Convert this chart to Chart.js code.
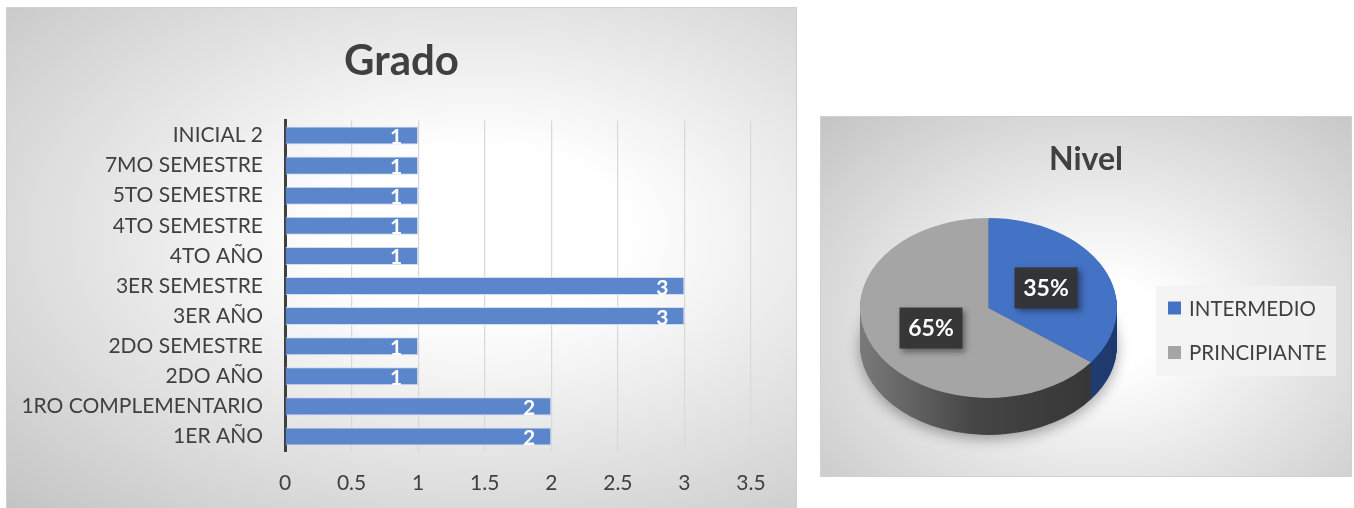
<!DOCTYPE html>
<html>
<head>
<meta charset="utf-8">
<script src="https://cdn.jsdelivr.net/npm/chart.js@4"></script>
<style>
  body { margin: 0; background: #fff; width: 1354px; height: 508px; overflow: hidden; position: relative; }
  .panel { position: absolute; border: 1px solid #d0d0d0; }
  #grado-panel {
    left: 6px; top: 7px; width: 789px; height: 500px;
    background: radial-gradient(ellipse farthest-corner at 60% 45%, #ffffff 0%, #ffffff 22%, #c4c4c4 100%);
  }
  #nivel-panel {
    left: 820px; top: 116px; width: 530px; height: 359px;
    background: radial-gradient(ellipse farthest-corner at 53% 58%, #ffffff 0%, #ffffff 15%, #c4c4c4 100%);
  }
  canvas { position: absolute; left: 0; top: 0; }
</style>
</head>
<body>
<div class="panel" id="grado-panel"><canvas id="grado" width="789" height="500"></canvas></div>
<div class="panel" id="nivel-panel"><canvas id="nivel" width="530" height="359"></canvas></div>
<script>
// --- data ---
const gradoLabels = ['1ER AÑO', '1RO COMPLEMENTARIO', '2DO AÑO', '2DO SEMESTRE', '3ER AÑO',
    '3ER SEMESTRE', '4TO AÑO', '4TO SEMESTRE', '5TO SEMESTRE', '7MO SEMESTRE', 'INICIAL 2'];
const gradoValues = [2, 2, 1, 1, 3, 3, 1, 1, 1, 1, 1];
const gradoTicks = [0, 0.5, 1, 1.5, 2, 2.5, 3, 3.5];

const nivelLabels = ['INTERMEDIO', 'PRINCIPIANTE'];
const nivelValues = [6, 11];

const TEXT = '#404040';
const FONT = 'Lato, Carlito, Calibri, sans-serif';
Chart.defaults.font.family = FONT;
Chart.defaults.color = TEXT;
Chart.defaults.animation = false;

// title centred on the whole canvas (layout padding would shift the built-in one)
const centerTitle = {
    id: 'centerTitle',
    afterDraw(chart, args, opts) {
        const ctx = chart.ctx;
        ctx.save();
        ctx.fillStyle = TEXT;
        ctx.font = `bold ${opts.size}px ${FONT}`;
        ctx.textAlign = 'center';
        ctx.textBaseline = 'middle';
        ctx.fillText(opts.text, chart.width / 2, opts.y);
        ctx.restore();
    }
};

// white value labels at the end of each bar
const barLabels = {
    id: 'barLabels',
    afterDatasetsDraw(chart) {
        const ctx = chart.ctx;
        const meta = chart.getDatasetMeta(0);
        ctx.save();
        ctx.fillStyle = '#ffffff';
        ctx.font = `bold 21px ${FONT}`;
        ctx.textAlign = 'right';
        ctx.textBaseline = 'alphabetic';
        meta.data.forEach((bar, i) => {
            ctx.fillText(String(gradoValues[i]), bar.x - 16, bar.y + 8.5);
        });
        ctx.restore();
    }
};

new Chart(document.getElementById('grado'), {
    type: 'bar',
    data: {
        labels: gradoLabels,
        datasets: [{
            data: gradoValues,
            backgroundColor: '#5b86cc',
            borderColor: 'rgba(205,218,240,0.9)',
            borderWidth: 1,
            barPercentage: 0.6,
            categoryPercentage: 1.0
        }]
    },
    options: {
        indexAxis: 'y',
        responsive: false,
        layout: { padding: { left: 0, right: 45, top: 112.5, bottom: 0 } },
        scales: {
            x: {
                min: 0,
                max: 3.5,
                afterBuildTicks: scale => { scale.ticks = gradoTicks.map(v => ({ value: v })); },
                afterFit: scale => { scale.height = 56.5; },
                grid: { color: '#d9d9d9', lineWidth: 1.25, drawTicks: false },
                border: { display: false },
                ticks: {
                    padding: 19,
                    font: { size: 21 },
                    color: TEXT,
                    callback: v => String(v)
                }
            },
            y: {
                reverse: true,
                afterFit: scale => { scale.width = 278; },
                grid: { display: false, drawTicks: false },
                border: { display: true, color: '#404040', width: 3 },
                ticks: { padding: 22, font: { size: 21 }, color: TEXT, autoSkip: false }
            }
        },
        plugins: {
            legend: { display: false },
            tooltip: { enabled: false },
            title: { display: false },
            centerTitle: { text: 'Grado', size: 42, y: 53 }
        }
    },
    plugins: [barLabels, centerTitle]
});

// --- 3D look for the pie: squash vertically and add a side wall ---
const TILT = 0.70;
const DEPTH = 37;
const sideColors = ['#1f3b70', null];

const pie3d = {
    id: 'pie3d',
    beforeDatasetsDraw(chart) {
        const ctx = chart.ctx;
        const arcs = chart.getDatasetMeta(0).data;
        const cx = arcs[0].x, cy = arcs[0].y, r = arcs[0].outerRadius;
        const graySide = ctx.createLinearGradient(cx - r, 0, cx + r, 0);
        graySide.addColorStop(0, '#7a7a7a');
        graySide.addColorStop(0.45, '#454545');
        graySide.addColorStop(1, '#333333');
        for (let d = DEPTH; d > 0; d--) {
            ctx.save();
            if (d === DEPTH) {
                ctx.shadowColor = 'rgba(0,0,0,0.35)';
                ctx.shadowBlur = 14;
                ctx.shadowOffsetY = 4;
            }
            ctx.translate(cx, cy + d);
            ctx.scale(1, TILT);
            ctx.translate(-cx, -cy);
            arcs.forEach((a, i) => {
                ctx.beginPath();
                ctx.moveTo(a.x, a.y);
                ctx.arc(a.x, a.y, a.outerRadius, a.startAngle, a.endAngle);
                ctx.closePath();
                ctx.fillStyle = sideColors[i] || graySide;
                ctx.fill();
            });
            ctx.restore();
        }
        ctx.save();
        ctx.translate(cx, cy);
        ctx.scale(1, TILT);
        ctx.translate(-cx, -cy);
    },
    afterDatasetsDraw(chart) {
        const ctx = chart.ctx;
        ctx.restore();
        const arcs = chart.getDatasetMeta(0).data;
        const total = nivelValues.reduce((s, v) => s + v, 0);
        ctx.save();
        ctx.font = `bold 23px ${FONT}`;
        ctx.textAlign = 'center';
        ctx.textBaseline = 'middle';
        arcs.forEach((a, i) => {
            const p = a.tooltipPosition();
            const x = p.x;
            const y = a.y + (p.y - a.y) * TILT;
            const txt = Math.round(nivelValues[i] / total * 100) + '%';
            ctx.save();
            ctx.shadowColor = 'rgba(0,0,0,0.45)';
            ctx.shadowBlur = 6;
            ctx.shadowOffsetX = 3;
            ctx.shadowOffsetY = 3;
            ctx.fillStyle = 'rgba(52,52,52,0.95)';
            ctx.fillRect(x - 31.5, y - 20.5, 63, 41);
            ctx.restore();
            ctx.fillStyle = '#ffffff';
            ctx.fillText(txt, x, y + 1);
        });
        ctx.restore();
    }
};

// legend drawn on a pale box to the right of the pie
const nivelLegend = {
    id: 'nivelLegend',
    afterDraw(chart) {
        const ctx = chart.ctx;
        const colors = chart.data.datasets[0].backgroundColor;
        const left = chart.chartArea.right + 39;
        const top = 169;
        ctx.save();
        ctx.fillStyle = 'rgba(242,242,242,0.85)';
        ctx.fillRect(left, top, 180, 90);
        ctx.font = `20.5px ${FONT}`;
        ctx.textBaseline = 'middle';
        ctx.textAlign = 'left';
        chart.data.labels.forEach((lab, i) => {
            const yc = top + 22 + i * 44.5;
            ctx.fillStyle = colors[i];
            ctx.fillRect(left + 12, yc - 6.5, 13, 13);
            ctx.fillStyle = TEXT;
            ctx.fillText(lab, left + 33, yc + 1);
        });
        ctx.restore();
    }
};

new Chart(document.getElementById('nivel'), {
    type: 'pie',
    data: {
        labels: nivelLabels,
        datasets: [{
            data: nivelValues,
            backgroundColor: ['#4472c4', '#a5a5a5'],
            borderWidth: 0
        }]
    },
    options: {
        responsive: false,
        layout: { padding: { left: 39, right: 234, top: 62.5, bottom: 39.5 } },
        plugins: {
            legend: { display: false },
            tooltip: { enabled: false },
            title: { display: false },
            centerTitle: { text: 'Nivel', size: 32, y: 43 }
        }
    },
    plugins: [pie3d, nivelLegend, centerTitle]
});
</script>
</body>
</html>
